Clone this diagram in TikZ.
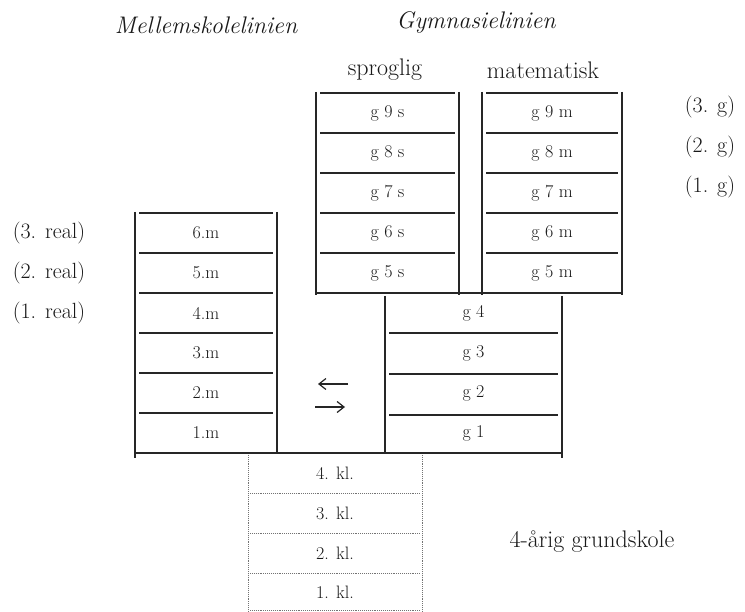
\documentclass[tikz,border=0pt]{standalone}
\usetikzlibrary{arrows.meta}
\begin{document}
\begin{tikzpicture}[x=1pt,y=-1pt,
  frame/.style={line width=1.8pt, black!85},
  sep/.style={line width=1.5pt, black!85},
  dotline/.style={densely dotted, line width=0.9pt, black!55},
  cell/.style={inner sep=0pt, text=black!90, font=\fontsize{18}{21}\selectfont},
  hdr/.style={inner sep=0pt, text=black!90, font=\fontsize{24}{28}\selectfont\itshape},
  sub/.style={inner sep=0pt, text=black!90, font=\fontsize{24}{28}\selectfont},
  lab/.style={inner sep=0pt, text=black!90, font=\fontsize{22}{26}\selectfont},
  arr/.style={line width=1.2pt, black!85, -{Straight Barb[length=7pt,width=11pt]}}]
\useasboundingbox (0,0) rectangle (745,612);
\fill[white] (0,0) rectangle (745,612);

% headings
\node[hdr] (hm) at (206,25) {Mellemskolelinien};
\node[hdr] (hg) at (476,23) {Gymnasielinien};
\node[sub] (hs) at (385,70) {sproglig};
\node[sub] (hmat) at (543,70) {matematisk};

% gymnasium cells
\foreach \n/\y in {9/113,8/153,7/193,6/233,5/273} {
  \node[cell] (s\n) at (387.5,\y) {g \n\ s};
  \node[cell] (m\n) at (552,\y) {g \n\ m};
}
% mellemskole cells
\foreach \n/\y in {6/233,5/273,4/313,3/353,2/393,1/433}
  \node[cell] (r\n) at (206,\y) {\n.m};
% common g cells
\foreach \n/\y in {4/313,3/353,2/393,1/433}
  \node[cell] (g\n) at (473.5,\y) {g \n};
% grundskole cells
\foreach \n/\y in {4/473,3/513,2/553,1/592}
  \node[cell] (k\n) at (335,\y) {\n. kl.};

% side labels
\node[lab] (lr3) at (49,233) {(3. real)};
\node[lab] (lr2) at (49,273) {(2. real)};
\node[lab] (lr1) at (49,313) {(1. real)};
\node[lab] (lg3) at (710,107) {(3. g)};
\node[lab] (lg2) at (710,147) {(2. g)};
\node[lab] (lg1) at (710,187) {(1. g)};
\node[sub] (gs) at (592,542) {4-årig grundskole};

% sproglig and matematisk boxes
\draw[frame] (316,92) -- (316,295);
\draw[frame] (459,92) -- (459,295);
\draw[frame] (482,92) -- (482,295);
\draw[frame] (622,92) -- (622,295);
\foreach \y in {93,133,173,213,253} {
  \draw[sep] (320,\y) -- (455,\y);
  \draw[sep] (486,\y) -- (618,\y);
}
\draw[frame] (316,293) -- (622,293);

% mellemskole box
\draw[frame] (135,212) -- (135,458);
\draw[frame] (277,212) -- (277,454);
\foreach \y in {213,253,293,333,373,413}
  \draw[sep] (139,\y) -- (273,\y);
\draw[frame] (135,453) -- (563,453);

% common g box
\draw[frame] (385,296) -- (385,453);
\draw[frame] (562,296) -- (562,458);
\foreach \y in {333,374,415}
  \draw[sep] (389,\y) -- (558,\y);

% grundskole box
\draw[dotline] (248,455) -- (248,611);
\draw[dotline] (422,455) -- (422,611);
\foreach \y in {493,533,573,610}
  \draw[dotline] (250,\y) -- (420,\y);

% arrows
\coordinate (al1) at (348,384);
\coordinate (al2) at (318,384);
\coordinate (ar1) at (315,407);
\coordinate (ar2) at (345,407);
\draw[arr] (al1) -- (al2);
\draw[arr] (ar1) -- (ar2);
\end{tikzpicture}
\end{document}
